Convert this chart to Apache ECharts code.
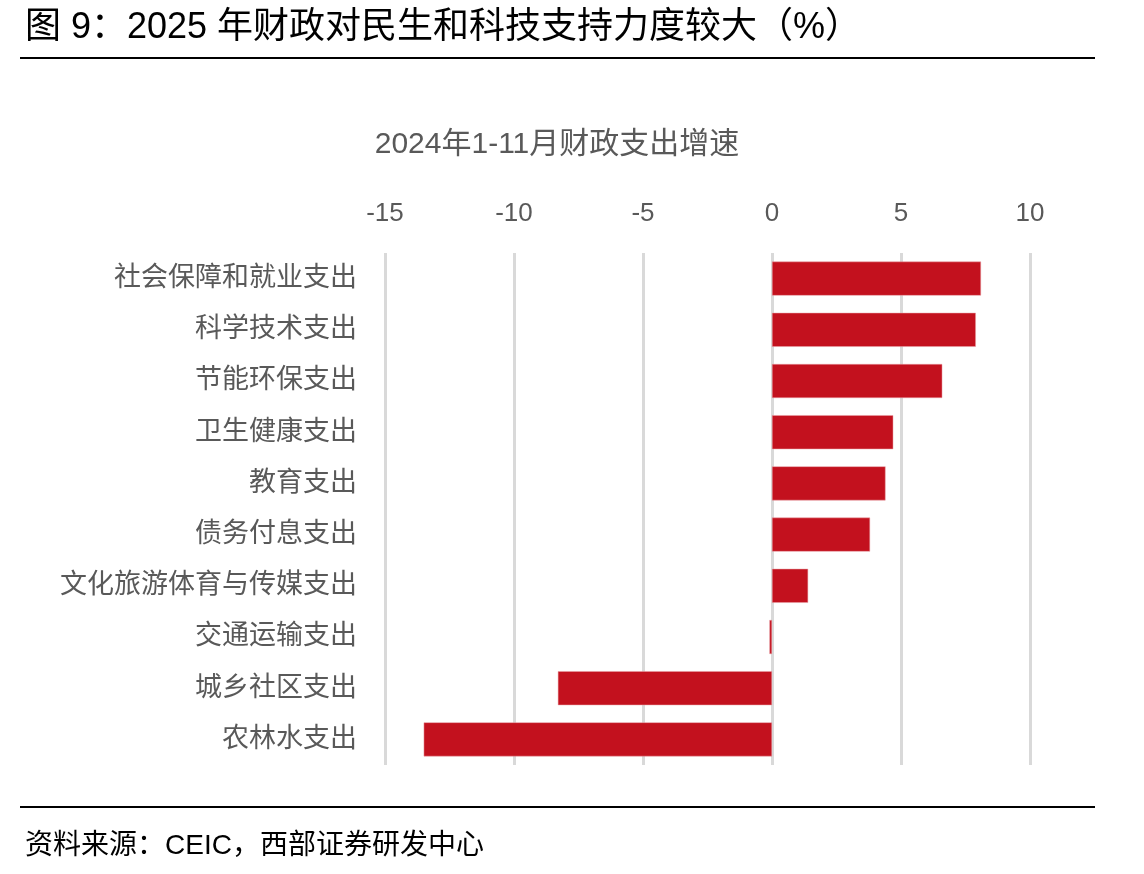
<!DOCTYPE html>
<html>
<head>
    <meta charset="utf-8">
    <title>财政支出增速</title>
    <script src="https://cdn.jsdelivr.net/npm/echarts@6/dist/echarts.min.js"></script>
    <style>
        html, body {margin:0;padding:0;background:#fff;}
        #chart {width:1144px;height:874px;}
    </style>
</head>
<body>
<div id="chart"></div>
<script>
    // 数据
    const categories = ['社会保障和就业支出', '科学技术支出', '节能环保支出', '卫生健康支出', '教育支出',
        '债务付息支出', '文化旅游体育与传媒支出', '交通运输支出', '城乡社区支出', '农林水支出'];
    const growth = [8.1, 7.9, 6.6, 4.7, 4.4, 3.8, 1.4, -0.1, -8.3, -13.5];
    const xTicks = [-15, 10, 5]; // min, max, interval

    const FONT = '"Liberation Sans", "Noto Sans CJK SC", sans-serif';
    const chart = echarts.init(document.getElementById('chart'));

    chart.setOption({
        backgroundColor: '#fff',
        animation: false,
        textStyle: {fontFamily: FONT},
        title: [
            {
                text: '图 9：2025 年财政对民生和科技支持力度较大（%）',
                left: 20, top: 5,
                textStyle: {fontSize: 36, fontWeight: 'normal', color: '#000', fontFamily: FONT}
            },
            {
                text: '2024年1-11月财政支出增速',
                left: 552, top: 125, textAlign: 'center',
                textStyle: {fontSize: 30, fontWeight: 'normal', color: '#595959', fontFamily: FONT}
            },
            {
                text: '资料来源：CEIC，西部证券研发中心',
                left: 20, top: 827,
                textStyle: {fontSize: 28, fontWeight: 'normal', color: '#000', fontFamily: FONT}
            }
        ],
        graphic: [
            {type: 'rect', shape: {x: 20, y: 57, width: 1075, height: 2}, style: {fill: '#000'}},
            {type: 'rect', shape: {x: 20, y: 806, width: 1075, height: 2}, style: {fill: '#000'}}
        ],
        grid: {left: 385, right: 114, top: 253, bottom: 109},
        xAxis: {
            type: 'value',
            position: 'top',
            min: xTicks[0], max: xTicks[1], interval: xTicks[2],
            axisLine: {show: false},
            axisTick: {show: false},
            axisLabel: {fontSize: 26, color: '#595959', margin: 26, fontFamily: FONT},
            splitLine: {show: true, lineStyle: {color: '#D9D9D9', width: 3}}
        },
        yAxis: {
            type: 'category',
            inverse: true,
            data: categories,
            axisLine: {show: false, onZero: false},
            axisTick: {show: false},
            axisLabel: {fontSize: 27, color: '#595959', margin: 28, fontFamily: FONT}
        },
        series: [{
            type: 'bar',
            data: growth,
            barWidth: 34,
            itemStyle: {color: '#C3111E', borderColor: '#E8A0A6', borderWidth: 0.5}
        }]
    });
</script>
</body>
</html>
